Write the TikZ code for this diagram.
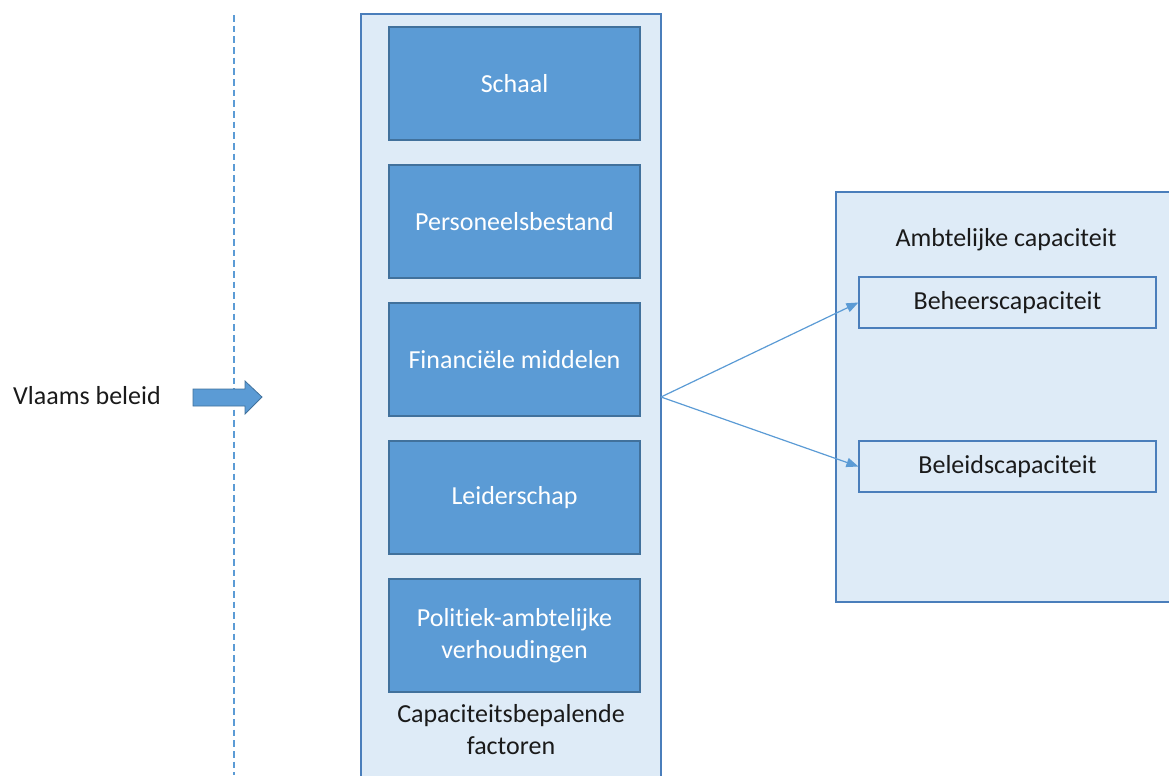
\documentclass[tikz,border=0pt]{standalone}
\usepackage{fontspec}
\setmainfont{Carlito}[RawFeature={-liga;-dlig;-calt}]
\usetikzlibrary{arrows.meta}
\definecolor{lightpanel}{HTML}{DEEBF7}
\definecolor{panelborder}{HTML}{4A7EBB}
\definecolor{boxfill}{HTML}{5B9BD5}
\definecolor{boxborder}{HTML}{41719C}
\definecolor{txt}{HTML}{1A1A1A}
\tikzset{
  panel/.style={draw=panelborder, fill=lightpanel, line width=0.9pt},
  factor/.style={draw=boxborder, fill=boxfill, line width=0.9pt, text=white, align=center, font=\fontsize{19.5}{24}\selectfont},
  capbox/.style={draw=panelborder, fill=lightpanel, line width=0.9pt, text=txt, font=\fontsize{19.5}{24}\selectfont},
  lbl/.style={text=txt, align=center, font=\fontsize{19.5}{24}\selectfont},
  link/.style={draw=boxfill, line width=0.9pt, -{Triangle[length=9pt,width=7pt]}}
}
\begin{document}
\begin{tikzpicture}[x=0.75pt,y=-0.75pt]
\useasboundingbox (0,0) rectangle (1169,775);
\clip (0,0) rectangle (1169,775);
% dashed divider
\draw[boxfill, line width=0.9pt, dash pattern=on 5pt off 3pt] (234,15) -- (234,775);
% left label and block arrow
\node[lbl, anchor=center] (vb) at (87,396) {Vlaams beleid};
\fill[boxfill, draw=boxborder, line width=0.6pt] (193,389) -- (245,389) -- (245,381) -- (262,397) -- (245,414) -- (245,406) -- (193,406) -- cycle;
% left panel
\draw[panel] (361,14) rectangle (661,790);
\node[factor, minimum width=251*0.75pt, minimum height=113*0.75pt] (f1) at (514.5,83.5) {Schaal};
\node[factor, minimum width=251*0.75pt, minimum height=113*0.75pt] (f2) at (514.5,221.5) {Personeelsbestand};
\node[factor, minimum width=251*0.75pt, minimum height=113*0.75pt] (f3) at (514.5,359.5) {Financiële middelen};
\node[factor, minimum width=251*0.75pt, minimum height=113*0.75pt] (f4) at (514.5,497.5) {Leiderschap};
\node[factor, minimum width=251*0.75pt, minimum height=113*0.75pt] (f5) at (514.5,635.5) {Politiek-ambtelijke\\verhoudingen};
\node[lbl] (cap) at (511,730) {Capaciteitsbepalende\\factoren};
% right panel
\draw[panel] (836,192) rectangle (1185,602);
\node[lbl] (amb) at (1006,240) {Ambtelijke capaciteit};
\node[capbox, minimum width=297*0.75pt, minimum height=51*0.75pt] (b1) at (1007.5,302.5) {Beheerscapaciteit};
\node[capbox, minimum width=297*0.75pt, minimum height=51*0.75pt] (b2) at (1007.5,466.5) {Beleidscapaciteit};
% connectors
\coordinate (src) at (661,397);
\draw[link] (src) -- (b1.west);
\draw[link] (src) -- (b2.west);
\end{tikzpicture}
\end{document}
